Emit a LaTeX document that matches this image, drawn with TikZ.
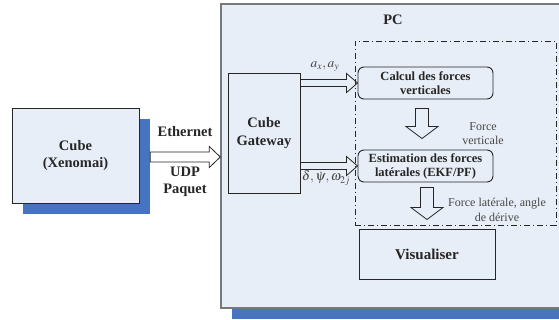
\documentclass[tikz,border=0pt]{standalone}
\usepackage{mathptmx}
\usepackage{fontspec}
\setmainfont{Liberation Serif}
\usetikzlibrary{calc}
\definecolor{bgblue}{RGB}{232,238,247}
\definecolor{shadowblue}{RGB}{70,116,193}
\definecolor{ink}{RGB}{38,38,38}
\definecolor{frame}{RGB}{120,120,120}
\tikzset{
  box/.style={draw=ink, line width=0.9pt, fill=bgblue, inner sep=0pt, align=center, text=ink},
  shadowbox/.style={fill=shadowblue, draw=none, inner sep=0pt},
  rbox/.style={draw=ink, line width=0.9pt, rounded corners=6pt, inner sep=0pt, align=center, text=ink, font=\fontsize{12.5}{14}\selectfont\bfseries},
  barrow/.style={draw=ink, line width=0.8pt, line join=miter},
  lbl/.style={text=ink, inner sep=0pt, font=\fontsize{14.5}{17}\selectfont\bfseries},
  note/.style={text=ink!85, inner sep=0pt, align=center, font=\fontsize{12}{14.5}\selectfont},
  mlbl/.style={text=ink!85, inner sep=0pt, font=\fontsize{13.5}{16}\selectfont},
  dashdot box/.style={draw=ink, line width=0.8pt, dash pattern=on 6pt off 3pt on 1pt off 3pt}
}
\newcommand{\harr}[5]{\draw[barrow] ($(#1)+(0,-#3)$) -- ($(#2)+(-#5,-#3)$) -- ($(#2)+(-#5,-#4)$) -- (#2) -- ($(#2)+(-#5,#4)$) -- ($(#2)+(-#5,#3)$) -- ($(#1)+(0,#3)$) -- cycle;}
\newcommand{\varr}[5]{\draw[barrow] ($(#1)+(-#3,0)$) -- ($(#2)+(-#3,-#5)$) -- ($(#2)+(-#4,-#5)$) -- (#2) -- ($(#2)+(#4,-#5)$) -- ($(#2)+(#3,-#5)$) -- ($(#1)+(#3,0)$) -- cycle;}
\begin{document}
\begin{tikzpicture}[x=1pt,y=-1pt]
\useasboundingbox (0,0) rectangle (559,320);
\clip (0,0) rectangle (559,320);
\fill[white] (0,0) rectangle (559,320);
% Cube
\node[shadowbox, minimum width=127pt, minimum height=95pt] (cubeshadow) at (86.5,166.5) {};
\node[box, minimum width=127pt, minimum height=95pt, font=\fontsize{14.5}{17.5}\selectfont\bfseries] (cube) at (75.5,155.5) {Cube\\(Xenomai)};
% PC
\node[shadowbox, minimum width=350pt, minimum height=304pt] (pcshadow) at (407,167) {};
\node[box, draw=frame, line width=1.4pt, minimum width=350pt, minimum height=304pt] (pc) at (396,156) {};
\node[lbl] (pclabel) at (393,20) {PC};
% dash-dot frame
\node[dashdot box, inner sep=0pt, minimum width=201pt, minimum height=184pt] (frame) at (455.5,133) {};
% Gateway
\node[box, fill=none, minimum width=72pt, minimum height=120pt, font=\fontsize{14.5}{18.5}\selectfont\bfseries] (gw) at (264,133) {Cube\\Gateway};
% Inner boxes
\node[rbox, minimum width=135pt, minimum height=32pt] (calc) at (425.5,83) {Calcul des forces\\verticales};
\node[rbox, minimum width=135pt, minimum height=32pt] (est) at (425.5,166) {Estimation des forces\\latérales (EKF/PF)};
\node[box, fill=none, minimum width=136pt, minimum height=50pt, font=\fontsize{15}{18}\selectfont\bfseries] (vis) at (427,254) {Visualiser};
% Ethernet arrow
\coordinate (e1) at ($(cubeshadow.east)+(0,-9.5)$);
\coordinate (e2) at (pc.west |- e1);
\harr{e1}{e2}{5}{10.5}{11}
\node[lbl] (eth) at (185,132) {Ethernet};
\node[lbl] (udp) at (185,172) {UDP};
\node[lbl] (paq) at (185,190) {Paquet};
% Gateway arrows
\coordinate (g1) at (gw.east |- calc.west);
\harr{g1}{calc.west}{3.5}{9.5}{11}
\coordinate (g2) at (gw.east |- est.west);
\harr{g2}{est.west}{3.5}{9.5}{11}
\node[mlbl] (ax) at (325,67) {$a_x, a_y$};
\node[mlbl] (dl) at (326,178) {$\delta, \dot{\psi}, \omega_{2j}$};
% vertical arrows
\coordinate (d1s) at ($(calc.south)+(-3.5,9)$);
\coordinate (d1e) at ($(est.north)+(-3.5,-11)$);
\varr{d1s}{d1e}{6.5}{16}{12}
\node[note] (fv) at (483,133.5) {Force\\verticale};
\coordinate (d2s) at ($(est.south)+(1.5,5)$);
\coordinate (d2e) at ($(vis.north)+(0,-9)$);
\varr{d2s}{d2e}{6.5}{16}{12}
\node[note] (fl) at (497,210) {Force latérale, angle\\de dérive};
\end{tikzpicture}
\end{document}
